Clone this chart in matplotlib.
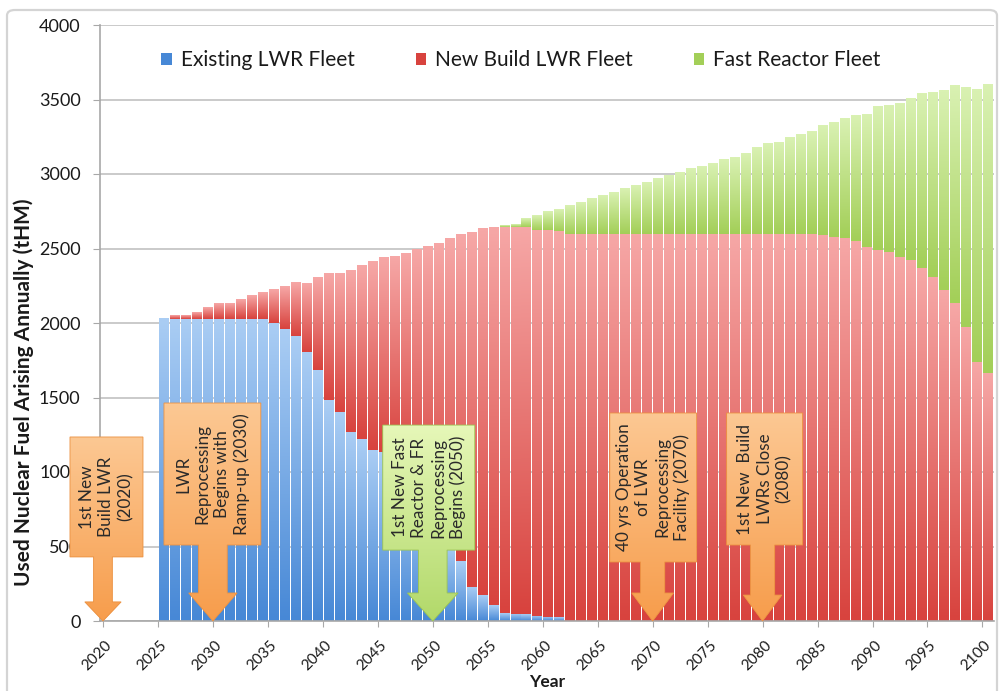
import numpy as np
import matplotlib
matplotlib.use("Agg")
import matplotlib.pyplot as plt
from matplotlib.patches import Polygon, Patch, FancyBboxPatch
from matplotlib.colors import to_rgb
import matplotlib.transforms as mtransforms

plt.rcParams['font.family'] = ['Lato', 'DejaVu Sans']

# ---------------- data ----------------
years = list(range(2025, 2101))

existing_lwr = [2030, 2030, 2030, 2030, 2030, 2030, 2030, 2030, 2030, 2030,
                2000, 1957, 1910, 1807, 1682, 1483, 1405, 1270, 1220, 1148,
                1136, 1130, 1010, 890, 770, 650, 530, 400, 230, 172,
                107, 53, 50, 45, 35, 30, 25, 0, 0, 0,
                0, 0, 0, 0, 0, 0, 0, 0, 0, 0,
                0, 0, 0, 0, 0, 0, 0, 0, 0, 0,
                0, 0, 0, 0, 0, 0, 0, 0, 0, 0,
                0, 0, 0, 0, 0, 0]

new_build_lwr = [0, 24, 24, 46, 80, 102, 102, 129, 158, 180,
                 226, 282, 360, 463, 618, 850, 928, 1085, 1162, 1263,
                 1305, 1320, 1457, 1599, 1742, 1884, 2037, 2190, 2382, 2462,
                 2534, 2592, 2596, 2601, 2588, 2593, 2595, 2600, 2600, 2600,
                 2600, 2600, 2600, 2600, 2600, 2600, 2600, 2600, 2600, 2600,
                 2600, 2600, 2600, 2600, 2600, 2600, 2600, 2600, 2600, 2600,
                 2590, 2580, 2570, 2550, 2510, 2490, 2478, 2445, 2420, 2367,
                 2311, 2221, 2131, 1975, 1740, 1665]

fast_reactor = [0, 0, 0, 0, 0, 0, 0, 0, 0, 0,
                0, 0, 0, 0, 0, 0, 0, 0, 0, 0,
                0, 0, 0, 0, 0, 0, 0, 0, 0, 0,
                0, 10, 14, 56, 95, 124, 143, 192, 214, 236,
                258, 281, 303, 326, 348, 370, 393, 415, 437, 452,
                475, 497, 515, 537, 578, 605, 616, 645, 668, 690,
                738, 770, 802, 845, 890, 962, 985, 1029, 1081, 1170,
                1241, 1342, 1459, 1606, 1828, 1939]

series_names = ["Existing LWR Fleet", "New Build LWR Fleet", "Fast Reactor Fleet"]
x_ticks = list(range(2020, 2101, 5))
y_ticks = [0, 500, 1000, 1500, 2000, 2500, 3000, 3500, 4000]

callouts = [
    dict(tip=2020, text="1st New\nBuild LWR\n(2020)", box=(-3.0, 3.64, 1235, 430),
         shaft=0.85, head=1.65, head_top=128, style="orange"),
    dict(tip=2030, text="LWR\nReprocessing\nBegins with\nRamp-up (2030)", box=(-4.45, 4.36, 1463, 510),
         shaft=1.3, head=2.2, head_top=188, style="orange"),
    dict(tip=2050, text="1st New Fast\nReactor & FR\nReprocessing\nBegins (2050)", box=(-4.55, 3.82, 1315, 476),
         shaft=1.3, head=2.3, head_top=188, style="green"),
    dict(tip=2070, text="40 yrs Operation\nof LWR\nReprocessing\nFacility (2070)", box=(-3.9, 4.0, 1396, 396),
         shaft=1.1, head=1.9, head_top=188, style="orange"),
    dict(tip=2080, text="1st New  Build\nLWRs Close\n(2080)", box=(-3.27, 3.64, 1396, 510),
         shaft=1.1, head=1.75, head_top=174, style="orange"),
]

# ---------------- figure ----------------
W, H = 1003, 691
fig = plt.figure(figsize=(W / 100, H / 100), dpi=100)
ax = fig.add_axes([100 / W, 70 / H, 894 / W, 596 / H])

fig.patches.append(FancyBboxPatch((7 / W, -6 / H), 990 / W, (H - 4) / H,
                                  boxstyle="round,pad=0,rounding_size=0.008",
                                  transform=fig.transFigure, fc="none",
                                  ec="#d4d4d4", lw=1.6, zorder=0))

colors = {
    "Existing LWR Fleet": ("#aacdf4", "#4788d6"),
    "New Build LWR Fleet": ("#f6a7a6", "#d8433e"),
    "Fast Reactor Fleet": ("#d9f1b2", "#a3cf58"),
}


def gradient_img(top, bot, n=64):
    t = np.linspace(0, 1, n)[:, None, None]
    a = np.array(to_rgb(top))[None, None, :]
    b = np.array(to_rgb(bot))[None, None, :]
    return a * (1 - t) + b * t


x = np.array(years) + 0.5
bottom = np.zeros(len(years))
handles = []
for name, vals in zip(series_names, [existing_lwr, new_build_lwr, fast_reactor]):
    vals = np.array(vals, dtype=float)
    top_c, bot_c = colors[name]
    cont = ax.bar(x, vals, bottom=bottom, width=0.86, color=bot_c, lw=0, zorder=2)
    img = gradient_img(top_c, bot_c)
    for p in cont.patches:
        h = p.get_height()
        if h <= 0:
            continue
        x0, y0, w = p.get_x(), p.get_y(), p.get_width()
        ax.imshow(img, extent=(x0, x0 + w, y0, y0 + h), aspect="auto",
                  origin="upper", interpolation="bilinear", zorder=2.1)
    bottom = bottom + vals
    handles.append(Patch(facecolor=bot_c, edgecolor="none", label=name))

# ---------------- axes styling ----------------
ax.set_xlim(2019.73, 2101.05)
ax.set_ylim(0, 4000)
ax.set_yticks(y_ticks)
ax.set_xticks(x_ticks)
ax.yaxis.grid(True, color="#c6c6c6", lw=1.3)
ax.set_axisbelow(True)
for s in ["top", "right"]:
    ax.spines[s].set_visible(False)
for s in ["left", "bottom"]:
    ax.spines[s].set_color("#a8a8a8")
    ax.spines[s].set_linewidth(1.2)
ax.tick_params(axis="y", length=5, color="#a8a8a8", labelsize=13, pad=9, labelcolor="#1a1a1a")
ax.tick_params(axis="x", length=4, color="#a8a8a8", labelsize=11, pad=8, labelcolor="#1a1a1a")
offset = mtransforms.ScaledTranslation(-6 / 100, 0, fig.dpi_scale_trans)
for lab in ax.get_xticklabels():
    lab.set_rotation(45)
    lab.set_ha("center")
    lab.set_transform(lab.get_transform() + offset)

fig.text(24 / W, 1 - 392 / H, "Used Nuclear Fuel Arising Annually (tHM)", rotation=90,
         ha="center", va="center", fontsize=15, fontweight="bold", color="#1a1a1a")
fig.text(547 / W, 1 - 682 / H, "Year", ha="center", va="center",
         fontsize=12.5, fontweight="bold", color="#1a1a1a")

ax.legend(handles=handles, loc="center", bbox_to_anchor=(0.471, 0.941), ncol=3,
          frameon=False, fontsize=15, handlelength=0.5, handleheight=0.5,
          handletextpad=0.45, columnspacing=2.9, labelcolor="#1a1a1a")

# ---------------- callouts ----------------
styles = {
    "orange": ("#fcc893", "#f79d4c", "#ec9242"),
    "green": ("#e6f7b8", "#b2d96a", "#9cc453"),
}
for c in callouts:
    t = c["tip"]
    L, R, top, bot = c["box"]
    sh, hh, ht = c["shaft"], c["head"], c["head_top"]
    pts = [(t + L, top), (t + R, top), (t + R, bot), (t + sh, bot), (t + sh, ht),
           (t + hh, ht), (t, 0), (t - hh, ht), (t - sh, ht), (t - sh, bot), (t + L, bot)]
    top_c, bot_c, edge_c = styles[c["style"]]
    poly = Polygon(pts, closed=True, fc=bot_c, ec="none", zorder=5, clip_on=False)
    ax.add_patch(poly)
    im = ax.imshow(gradient_img(top_c, bot_c), extent=(t + L, t + R, 0, top), aspect="auto",
                   origin="upper", interpolation="bilinear", zorder=5.1)
    im.set_clip_box(fig.bbox)
    im.set_clip_path(poly)
    ax.add_patch(Polygon(pts, closed=True, fc="none", ec=edge_c, lw=0.6, zorder=5.2, clip_on=False))
    ax.text(t + (L + R) / 2, (top + bot) / 2, c["text"], rotation=90, ha="center", va="center",
            multialignment="center", fontsize=12.3, color="#2a2a2a", linespacing=1.25,
            zorder=6, clip_on=False)

ax.set_xlim(2019.73, 2101.05)
ax.set_ylim(0, 4000)
fig.savefig("out.png", dpi=100)
